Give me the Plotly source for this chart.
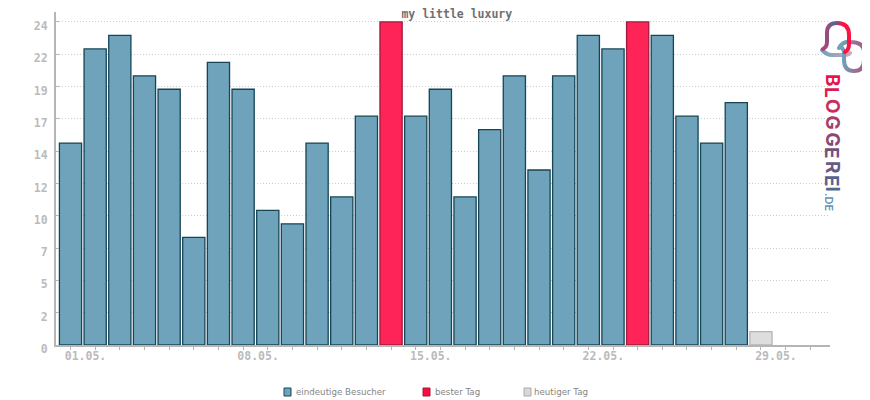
import urllib.parse

import plotly.graph_objects as go

days = [f"{d:02d}.05." for d in range(1, 32)]
visitors = [15, 22, 23, 20, 19, 8, 21, 19, 10, 9, 15, 11, 17, None, 17, 19, 11, 16,
            20, 13, 20, 23, 22, None, 23, 17, 15, 18]
best_days = [None] * 13 + [24] + [None] * 9 + [24]
today = [None] * 28 + [1]

y_ticks = [0, 2.4, 4.8, 7.2, 9.6, 12, 14.4, 16.8, 19.2, 21.6, 24]
y_labels = ["0", "2", "5", "7", "10", "12", "14", "17", "19", "22", "24"]
x_labels = [d if i % 7 == 0 else "" for i, d in enumerate(days)]

legend_items = [
    ("eindeutige Besucher", "#6ea3bb", "#164556", 284, 294),
    ("bester Tag", "#ff0a3c", "#a01a3c", 423, 433),
    ("heutiger Tag", "#d8d8d8", "#aaaaaa", 524, 532),
]
logo_letters = ["B", "L", "O", "G", "G", "E", "R", "E", "I"]
logo_centers = [80, 92, 106, 122.5, 139.5, 153, 167, 181, 188.5]
logo_colors = ["#e8134e", "#dc1c54", "#c82f60", "#a83e6c", "#8c4875",
               "#75507c", "#675a85", "#5a628a", "#4f6a8f"]

MONO = "DejaVu Sans Mono, Liberation Mono, monospace"
# the page has an 8px body margin, so the figure starts at (8, 8) in the window
PAGE = 8
W, H = 862, 392
L, R, T, B = 48, 40, 4, 55


def px(x):
    return (x - PAGE - L) / (W - L - R)


def py(y):
    return (H - B - (y - PAGE)) / (H - T - B)


logo_svg = """<svg xmlns='http://www.w3.org/2000/svg' viewBox='815 15 55 60' width='550' height='600'>
<defs>
<linearGradient id='a' gradientUnits='userSpaceOnUse' x1='824' y1='0' x2='848' y2='0'>
<stop offset='0' stop-color='#b5407a'/><stop offset='0.45' stop-color='#4f6a8f'/>
<stop offset='0.75' stop-color='#ff1144'/><stop offset='1' stop-color='#ff1144'/></linearGradient>
<linearGradient id='b' gradientUnits='userSpaceOnUse' x1='822' y1='0' x2='850' y2='0'>
<stop offset='0' stop-color='#6ea3bb'/><stop offset='1' stop-color='#c9a9bb'/></linearGradient>
<linearGradient id='c' gradientUnits='userSpaceOnUse' x1='842' y1='0' x2='865' y2='0'>
<stop offset='0' stop-color='#6ea3bb'/><stop offset='1' stop-color='#b0507a'/></linearGradient>
</defs>
<g fill='none' stroke-width='4' stroke-linecap='round'>
<path stroke='url(#b)' d='M822,50 Q827,55 832,55 L843,55 Q848,55 850,53'/>
<path stroke='url(#c)' d='M839,48 Q843,41 850,42 Q864,42 864,52 L864,60 Q864,71 854,71 Q844,71 844,60 L844,52 Q844,50 841,47'/>
<path stroke='url(#a)' d='M823,49 Q827,47 827,42 L827,33 Q827,23 837,23 Q849,23 849,35 L849,44 Q849,50 845,52'/>
</g></svg>"""

fig = go.Figure()
fig.add_bar(x=days, y=visitors, name="eindeutige Besucher", width=0.9,
            marker=dict(color="#6ea3bb", line=dict(color="#164556", width=1.3)))
fig.add_bar(x=days, y=best_days, name="bester Tag", width=0.9,
            marker=dict(color="#ff2458", line=dict(color="#a01a3c", width=1.3)))
fig.add_bar(x=days, y=today, name="heutiger Tag", width=0.9,
            marker=dict(color="#dddddd", line=dict(color="#b5b5b5", width=1.3)))

shapes = []
annotations = []
for label, fill, edge, left, text_x in legend_items:
    shapes.append(dict(type="rect", xref="paper", yref="paper", layer="above",
                       x0=px(left), x1=px(left + 7), y0=py(396), y1=py(388),
                       fillcolor=fill, line=dict(color=edge, width=1)))
    annotations.append(dict(text=label, xref="paper", yref="paper", x=px(text_x),
                            y=py(392), xanchor="left", yanchor="middle", showarrow=False,
                            font=dict(family="DejaVu Sans", size=8.7, color="#858585")))

for letter, center, color in zip(logo_letters, logo_centers, logo_colors):
    annotations.append(dict(text=letter, xref="paper", yref="paper", x=px(832), y=py(center),
                            textangle=90, showarrow=False, xanchor="center", yanchor="middle",
                            font=dict(family="Inter", size=19, weight=700, color=color)))
annotations.append(dict(text=".DE", xref="paper", yref="paper", x=px(829), y=py(202),
                        textangle=90, showarrow=False, xanchor="center", yanchor="middle",
                        font=dict(family="Inter", size=11, weight=600, color="#5f93b3")))

fig.update_layout(
    width=W,
    height=H,
    margin=dict(l=L, r=R, t=T, b=B),
    barmode="overlay",
    showlegend=False,
    paper_bgcolor="white",
    plot_bgcolor="white",
    title=dict(text="my little luxury", x=px(459), y=1 - 5.5 / H, xanchor="center", yanchor="middle",
               font=dict(family=MONO, size=11.5, weight=700, color="#707070")),
    shapes=shapes,
    annotations=annotations,
    images=[dict(source="data:image/svg+xml," + urllib.parse.quote(logo_svg),
                 xref="paper", yref="paper", x=px(815), y=py(15), sizex=55 / (W - L - R),
                 sizey=60 / (H - T - B), xanchor="left", yanchor="top", sizing="stretch",
                 layer="above")],
)
fig.update_xaxes(
    type="category",
    categoryorder="array",
    categoryarray=days,
    range=[-0.588, 30.8],
    tickmode="array",
    tickvals=days,
    ticktext=x_labels,
    ticks="outside",
    ticklen=3,
    tickwidth=1,
    tickcolor="#b5b5b5",
    ticklabelshift=15,
    ticklabelstandoff=-4,
    tickangle=0,
    showgrid=False,
    showline=True,
    linecolor="#b5b5b5",
    linewidth=2,
    tickfont=dict(family=MONO, size=11.5, weight=700, color="#bbbbbb"),
)
fig.update_yaxes(
    range=[0, 24.74],
    tickmode="array",
    tickvals=y_ticks,
    ticktext=y_labels,
    ticks="inside",
    ticklen=3,
    tickwidth=1,
    tickcolor="#b5b5b5",
    showgrid=True,
    gridcolor="#cccccc",
    gridwidth=1,
    griddash="1px,2px",
    zeroline=False,
    showline=True,
    linecolor="#b5b5b5",
    linewidth=2,
    ticklabelstandoff=4,
    ticklabelshift=4,
    tickfont=dict(family=MONO, size=11.5, weight=700, color="#bbbbbb"),
)

fig.write_html("out.html")
